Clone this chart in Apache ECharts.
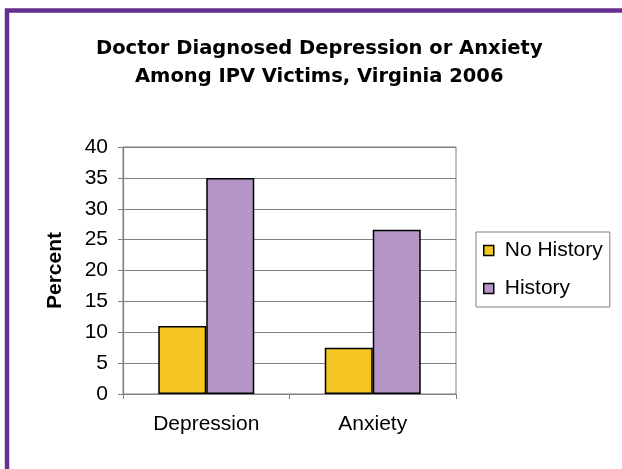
<!DOCTYPE html>
<html>
<head>
<meta charset="utf-8">
<script src="https://cdn.jsdelivr.net/npm/echarts@6/dist/echarts.min.js"></script>
<style>html,body{margin:0;padding:0;background:#fff;}#c{width:622px;height:469px;}</style>
</head>
<body>
<div id="c"></div>
<script>
const categories = ['Depression', 'Anxiety'];
const noHistory = [11, 7.5];
const history = [35, 26.6];
const seriesNames = ['No History', 'History'];
const titleLines = ['Doctor Diagnosed Depression or Anxiety', 'Among IPV Victims, Virginia 2006'];
const yAxisName = 'Percent';

const chart = echarts.init(document.getElementById('c'), null, {renderer: 'canvas'});
const font = '"Liberation Sans", Arial, sans-serif';
const titleStyle = {fontFamily: '"DejaVu Sans", sans-serif', fontWeight: 'bold', fontSize: 19.5, lineHeight: 28, color: '#000'};
chart.setOption({
  animation: false,
  backgroundColor: '#fff',
  graphic: [{
    type: 'rect', z: 100, silent: true,
    shape: {x: 7, y: 10.5, width: 800, height: 800},
    style: {fill: 'none', stroke: '#66308F', lineWidth: 4.5}
  }],
  title: [
    {text: titleLines[0], left: 91, top: 30, textStyle: titleStyle},
    {text: titleLines[1], left: 130, top: 58, textStyle: titleStyle}
  ],
  legend: {
    orient: 'vertical', left: 476, top: 232,
    padding: [8, 7, 8, 7], itemGap: 17,
    itemWidth: 10, itemHeight: 10, icon: 'rect',
    borderColor: '#808080', borderWidth: 1,
    textStyle: {fontFamily: font, fontSize: 21, color: '#000', padding: [0, 0, 0, 6]},
    itemStyle: {borderColor: '#000', borderWidth: 1.5}
  },
  grid: {left: 123, right: 166, top: 147, bottom: 75, show: true, borderColor: '#808080', borderWidth: 1},
  xAxis: {
    type: 'category', data: categories,
    axisLine: {lineStyle: {color: '#808080', width: 1.2}},
    axisTick: {show: true, length: 5, lineStyle: {color: '#808080'}},
    axisLabel: {fontFamily: font, fontSize: 21, color: '#000', margin: 20}
  },
  yAxis: {
    type: 'value', min: 0, max: 40, interval: 5,
    name: yAxisName, nameLocation: 'middle', nameGap: 57,
    nameTextStyle: {fontFamily: font, fontSize: 21, fontWeight: 'bold', color: '#000'},
    axisLine: {show: true, lineStyle: {color: '#808080', width: 1.2}},
    axisTick: {show: true, length: 5, lineStyle: {color: '#808080'}},
    axisLabel: {fontFamily: font, fontSize: 21, color: '#000', margin: 15},
    splitLine: {show: true, lineStyle: {color: '#808080', width: 1}}
  },
  series: [
    {name: seriesNames[0], type: 'bar', data: noHistory, barWidth: 48, barGap: '0%',
     itemStyle: {color: '#F5C623', borderColor: '#000', borderWidth: 1.5}},
    {name: seriesNames[1], type: 'bar', data: history, barWidth: 48, barGap: '0%',
     itemStyle: {color: '#B595C6', borderColor: '#000', borderWidth: 1.5}}
  ]
});
</script>
</body>
</html>
